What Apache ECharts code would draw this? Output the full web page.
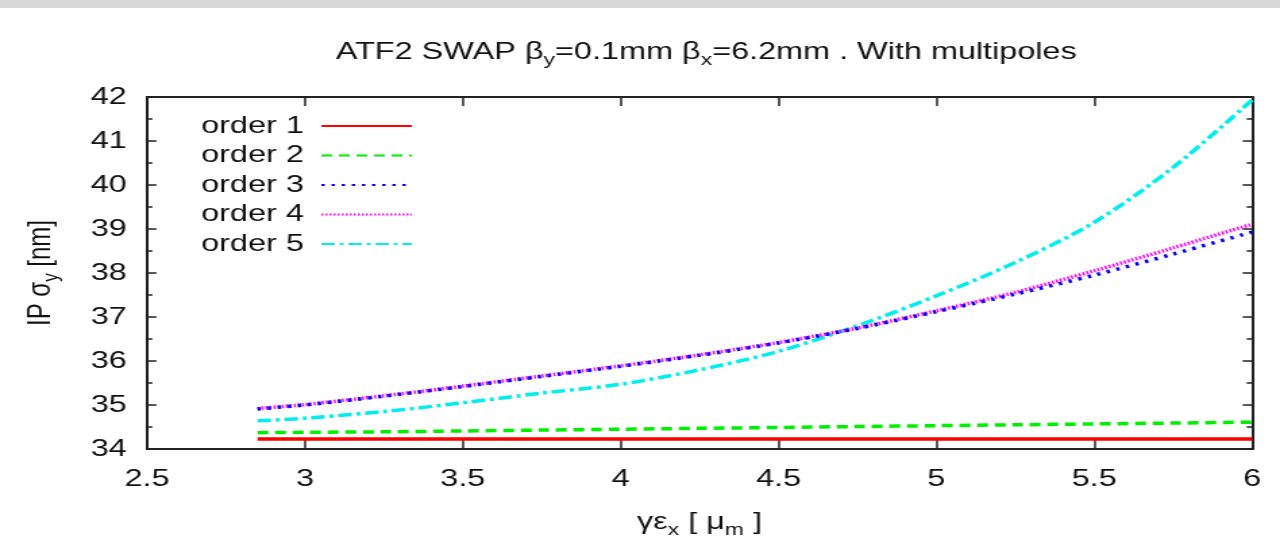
<!DOCTYPE html>
<html><head><meta charset="utf-8">
<script src="https://cdn.jsdelivr.net/npm/echarts@6/dist/echarts.min.js"></script>
<style>
html,body{margin:0;padding:0;background:#fff;overflow:hidden;}
#wrap{width:1280px;height:537px;overflow:hidden;position:relative;background:#fff;}
#chart{width:948px;height:537px;transform:scaleX(1.350211);transform-origin:0 0;}
</style></head><body><div id="wrap"><div id="chart"></div></div>
<script>
const xValues = [2.85, 3.0, 3.25, 3.5, 3.75, 4.0, 4.25, 4.5, 4.75, 5.0, 5.25, 5.5, 5.75, 6.0];
const order1 = [34.23, 34.23, 34.23, 34.23, 34.23, 34.23, 34.23, 34.23, 34.23, 34.23, 34.23, 34.23, 34.23, 34.23];
const order2 = [34.37, 34.38, 34.39, 34.41, 34.43, 34.45, 34.47, 34.49, 34.51, 34.53, 34.55, 34.57, 34.59, 34.61];
const order3 = [34.91, 35.0, 35.2, 35.42, 35.65, 35.88, 36.13, 36.41, 36.74, 37.12, 37.52, 37.95, 38.43, 38.93];
const order4 = [34.92, 35.01, 35.21, 35.43, 35.66, 35.89, 36.14, 36.42, 36.75, 37.14, 37.56, 38.05, 38.57, 39.11];
const order5 = [34.64, 34.7, 34.85, 35.05, 35.27, 35.47, 35.8, 36.22, 36.8, 37.48, 38.24, 39.15, 40.4, 41.93];
const seriesNames = ['order 1', 'order 2', 'order 3', 'order 4', 'order 5'];
const xTicks = {min: 2.5, max: 6, interval: 0.5};
const yTicks = {min: 34, max: 42, interval: 1};

const W = 948;
const gridLeft = 108.9, gridRight = 20.7, gridTop = 97, gridBottom = 88;
const font = 'Liberation Sans, Arial, sans-serif';
const axisColor = '#222';

function pairs(ys) { return xValues.map((x, i) => [x, ys[i]]); }

const styles = [
  {color: '#ff0000', type: 'solid', width: 3.5},
  {color: '#00ee00', type: [8, 5], width: 3.5},
  {color: '#0000ff', type: [2.5, 5], width: 3.5},
  {color: '#ff00ff', type: [1.5, 1.5], width: 3.5},
  {color: '#00eeee', type: [10, 3.5, 3, 3.5], width: 3.5}
];
const dataSets = [order1, order2, order3, order4, order5];

const richText = {
  a: {fontSize: 24, fontFamily: font, fontWeight: 'normal', color: '#111', lineHeight: 34, verticalAlign: 'middle'},
  s: {fontSize: 17, fontFamily: font, fontWeight: 'normal', color: '#111', lineHeight: 17, verticalAlign: 'bottom'}
};

const chart = echarts.init(document.getElementById('chart'), null, {renderer: 'canvas'});
const option = {
  animation: false,
  backgroundColor: '#fff',
  graphic: [{type: 'rect', left: 0, top: 0, shape: {width: W, height: 8}, style: {fill: '#d8d8d8'}, silent: true}],
  title: {
    text: '{a|ATF2 SWAP β}{s|y}{a|=0.1mm β}{s|x}{a|=6.2mm . With multipoles}',
    left: (gridLeft + (W - gridRight)) / 2,
    textAlign: 'center',
    top: 30,
    textStyle: {fontWeight: 'normal', rich: richText}
  },
  legend: {
    orient: 'vertical',
    left: 144,
    top: 109,
    align: 'right',
    itemWidth: 67,
    itemHeight: 14,
    itemGap: 5.5,
    itemStyle: {color: 'rgba(0,0,0,0)', borderColor: 'rgba(0,0,0,0)', borderWidth: 0},
    textStyle: {fontSize: 24, fontFamily: font, color: '#111', padding: [0, 8, 0, 0]},
    data: seriesNames
  },
  grid: {left: gridLeft, right: gridRight, top: gridTop, bottom: gridBottom, containLabel: false, outerBoundsMode: 'none'},
  xAxis: [
    {
      type: 'value', min: xTicks.min, max: xTicks.max, interval: xTicks.interval,
      position: 'bottom',
      name: '{a|γε}{s|x}{a| [ μ}{s|m}{a| ]}',
      nameLocation: 'middle', nameGap: 56,
      nameTextStyle: {rich: richText},
      axisLine: {show: true, onZero: false, lineStyle: {color: axisColor, width: 2}},
      axisTick: {show: true, inside: true, length: 9, lineStyle: {color: axisColor, width: 1.5}},
      axisLabel: {fontSize: 24, fontFamily: font, color: '#111', margin: 18},
      splitLine: {show: false}
    },
    {
      type: 'value', min: xTicks.min, max: xTicks.max, interval: xTicks.interval,
      position: 'top',
      axisLine: {show: true, onZero: false, lineStyle: {color: axisColor, width: 2}},
      axisTick: {show: true, inside: true, length: 9, lineStyle: {color: axisColor, width: 1.5}},
      axisLabel: {show: false},
      splitLine: {show: false}
    }
  ],
  yAxis: [
    {
      type: 'value', min: yTicks.min, max: yTicks.max, interval: yTicks.interval,
      position: 'left',
      name: '{a|IP σ}{s|y}{a| [nm]}',
      nameLocation: 'middle', nameGap: 62, nameRotate: 90,
      nameTextStyle: {rich: richText},
      axisLine: {show: true, onZero: false, lineStyle: {color: axisColor, width: 2}},
      axisTick: {show: true, inside: true, length: 7, lineStyle: {color: axisColor, width: 1.5}},
      minorTick: {show: true, splitNumber: 2, length: 4, lineStyle: {color: axisColor, width: 1.5}},
      axisLabel: {fontSize: 24, fontFamily: font, color: '#111', margin: 15},
      splitLine: {show: false}
    },
    {
      type: 'value', min: yTicks.min, max: yTicks.max, interval: yTicks.interval,
      position: 'right',
      axisLine: {show: true, onZero: false, lineStyle: {color: axisColor, width: 2}},
      axisTick: {show: true, inside: true, length: 7, lineStyle: {color: axisColor, width: 1.5}},
      minorTick: {show: true, splitNumber: 2, length: 4, lineStyle: {color: axisColor, width: 1.5}},
      axisLabel: {show: false},
      splitLine: {show: false}
    }
  ],
  series: seriesNames.map((n, i) => ({
    name: n,
    type: 'line',
    xAxisIndex: 0,
    yAxisIndex: 0,
    data: pairs(dataSets[i]),
    symbol: 'none',
    smooth: 0.3,
    color: styles[i].color,
    lineStyle: {color: styles[i].color, type: styles[i].type, width: styles[i].width},
    z: 5 - i
  }))
};
chart.setOption(option);
</script></body></html>
